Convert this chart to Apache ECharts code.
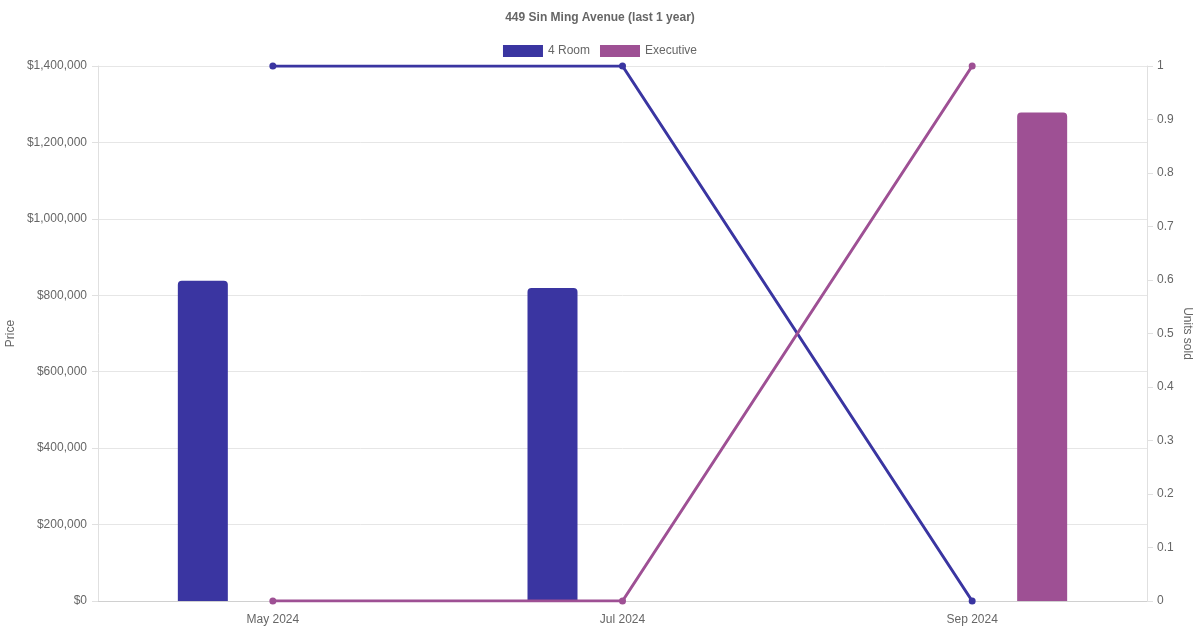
<!DOCTYPE html>
<html>
<head>
<meta charset="utf-8">
<script src="https://cdn.jsdelivr.net/npm/echarts@6/dist/echarts.min.js"></script>
<style>html,body{margin:0;padding:0;background:#fff}#c{width:1200px;height:630px}</style>
</head>
<body>
<div id="c"></div>
<script>
const categories = ['May 2024', 'Jul 2024', 'Sep 2024'];
const priceFourRoom = [838000, 819000, null];
const priceExecutive = [null, null, 1278000];
const unitsFourRoom = [1, 1, 0];
const unitsExecutive = [0, 0, 1];
const seriesNames = ['4 Room', 'Executive'];
const colors = ['#3a35a1', '#9e5094'];

const font = '"Liberation Sans", Arial, Helvetica, sans-serif';
const chart = echarts.init(document.getElementById('c'));
chart.setOption({
  animation: false,
  textStyle: { fontFamily: font },
  title: {
    text: '449 Sin Ming Avenue (last 1 year)',
    left: 'center', top: 7,
    textStyle: { fontFamily: font, fontSize: 12, fontWeight: 'bold', color: '#666' }
  },
  legend: {
    data: seriesNames.map(n => ({ name: n, icon: 'rect' })),
    top: 40, left: 'center',
    itemWidth: 40, itemHeight: 12, itemGap: 10,
    textStyle: { fontFamily: font, fontSize: 12, color: '#666' }
  },
  grid: { left: 98, right: 53, top: 66, bottom: 29, containLabel: false, outerBoundsMode: 'none' },
  xAxis: {
    type: 'category', data: categories, boundaryGap: true,
    axisLine: { lineStyle: { color: '#d0d0d0' } },
    axisTick: { show: false },
    axisLabel: { color: '#666', fontSize: 12, margin: 13, fontFamily: font },
    splitLine: { show: false }
  },
  yAxis: [{
    type: 'value', min: 0, max: 1400000, interval: 200000,
    name: 'Price', nameLocation: 'middle', nameGap: 81, nameRotate: 90, nameMoveOverlap: false,
    nameTextStyle: { color: '#666', fontSize: 12, fontFamily: font },
    axisLine: { show: true, lineStyle: { color: '#e0e0e0' } },
    axisTick: { show: true, length: 6, lineStyle: { color: '#e0e0e0' } },
    axisLabel: { color: '#666', fontSize: 12, margin: 11, fontFamily: font,
      formatter: v => '$' + v.toLocaleString('en-US') },
    splitLine: { lineStyle: { color: '#e6e6e6' } }
  }, {
    type: 'value', min: 0, max: 1, interval: 0.1, position: 'right',
    name: 'Units sold', nameLocation: 'middle', nameGap: 34, nameRotate: -90, nameMoveOverlap: false,
    nameTextStyle: { color: '#666', fontSize: 12, fontFamily: font },
    axisLine: { show: true, lineStyle: { color: '#e0e0e0' } },
    axisTick: { show: true, length: 6, lineStyle: { color: '#e0e0e0' } },
    axisLabel: { color: '#666', fontSize: 12, margin: 10, fontFamily: font,
      formatter: v => String(Math.round(v * 10) / 10) },
    splitLine: { show: false }
  }],
  series: [
    { name: seriesNames[0], type: 'bar', yAxisIndex: 0, data: priceFourRoom,
      barWidth: 50, barGap: '180%', itemStyle: { color: colors[0], borderRadius: [4, 4, 0, 0] } },
    { name: seriesNames[1], type: 'bar', yAxisIndex: 0, data: priceExecutive,
      barWidth: 50, barGap: '180%', itemStyle: { color: colors[1], borderRadius: [4, 4, 0, 0] } },
    { name: seriesNames[0], type: 'line', yAxisIndex: 1, data: unitsFourRoom,
      symbol: 'circle', symbolSize: 7, lineStyle: { width: 3, color: colors[0] },
      itemStyle: { color: colors[0] }, z: 5 },
    { name: seriesNames[1], type: 'line', yAxisIndex: 1, data: unitsExecutive,
      symbol: 'circle', symbolSize: 7, lineStyle: { width: 3, color: colors[1] },
      itemStyle: { color: colors[1] }, z: 5 }
  ]
});
</script>
</body>
</html>
